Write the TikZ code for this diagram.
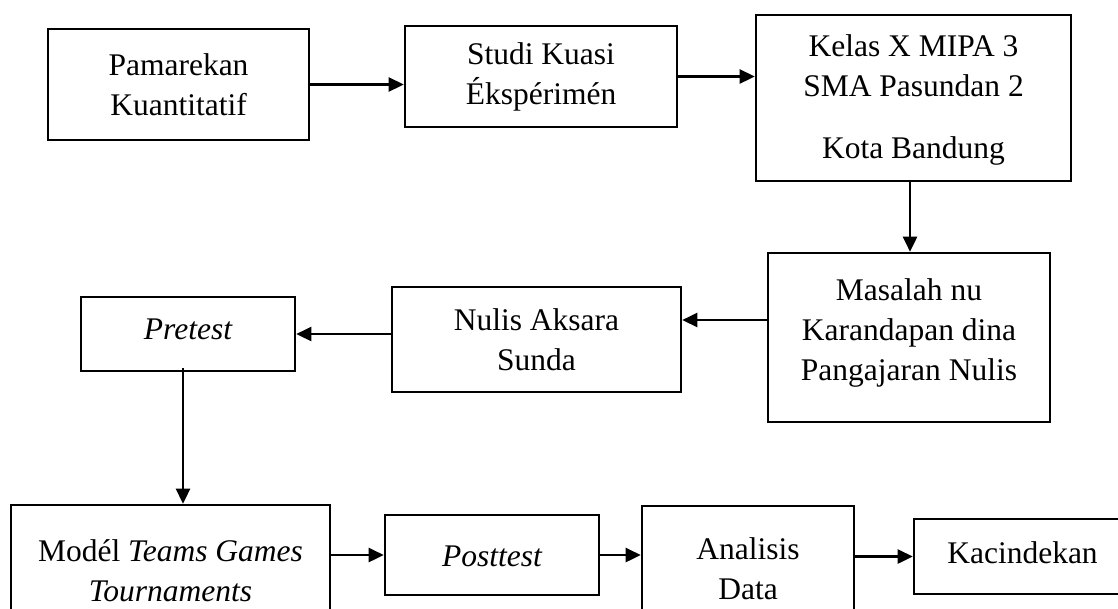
\documentclass[tikz,border=0pt]{standalone}
\usepackage{fontspec}
\setmainfont{Liberation Serif}
\usetikzlibrary{arrows.meta}
\tikzset{
  box/.style={draw=black, line width=2.6pt, rectangle, inner sep=0pt},
  txt/.style={align=center, inner sep=0pt, font=\fontsize{31.5}{40}\selectfont},
  arr/.style={line width=2.6pt, -{Triangle[length=15pt,width=14pt]}},
}
\begin{document}
\begin{tikzpicture}[x=1pt,y=-1pt]
\useasboundingbox (0,0) rectangle (1118,608);
\clip (0,0) rectangle (1118,608);
\fill[white] (0,0) rectangle (1118,608);
% boxes
\node[box, minimum width=261pt, minimum height=111pt] (pam) at (178.5,84.5) {};
\node[box, minimum width=272pt, minimum height=101pt] (studi) at (541,76.5) {};
\node[box, minimum width=315pt, minimum height=166pt] (kelas) at (913.5,98) {};
\node[box, minimum width=282pt, minimum height=169pt] (masalah) at (909,337.5) {};
\node[box, minimum width=289pt, minimum height=105pt] (nulis) at (536.5,339.5) {};
\node[box, minimum width=214pt, minimum height=74pt] (pretest) at (188,334) {};
\node[box, minimum width=319pt, minimum height=125pt] (model) at (170.5,567.5) {};
\node[box, minimum width=214pt, minimum height=80pt] (posttest) at (492,555) {};
\node[box, minimum width=212pt, minimum height=124pt] (analisis) at (748,568) {};
\node[box, minimum width=217pt, minimum height=75pt] (kac) at (1022.5,556.5) {};
% texts
\node[txt] (pam-t) at (178.5,85) {Pamarekan\\Kuantitatif};
\node[txt] (studi-t) at (541,77) {Studi Kuasi\\Ékspérimén};
\node[txt] (kelas-t) at (913.5,100) {Kelas X MIPA 3\\SMA Pasundan 2\\[22pt]Kota Bandung};
\node[txt] (masalah-t) at (909,333) {Masalah nu\\Karandapan dina\\Pangajaran Nulis};
\node[txt] (nulis-t) at (536.5,340) {Nulis Aksara\\Sunda};
\node[txt] (pretest-t) at (188,329) {\itshape Pretest};
\node[txt] (model-t) at (170.5,571) {Modél \textit{Teams Games}\\\textit{Tournaments}};
\node[txt] (posttest-t) at (492,556) {\itshape Posttest};
\node[txt] (analisis-t) at (748,569) {Analisis\\Data};
\node[txt] (kac-t) at (1022.5,553) {Kacindekan};
% connectors
\draw[arr] (pam.east) -- (pam.east -| studi.west);
\draw[arr] (studi.east) -- (studi.east -| kelas.west);
\draw[arr] (kelas.south -| 910,0) -- (masalah.north -| 910,0);
\draw[arr] (masalah.west |- 0,320) -- (nulis.east |- 0,320);
\draw[arr] (nulis.west |- pretest.east) -- (pretest.east);
\draw[arr] ([yshift=4pt]pretest.south -| 183,0) -- (model.north -| 183,0);
\draw[arr] (model.east |- posttest.west) -- (posttest.west);
\draw[arr] (posttest.east) -- (posttest.east -| analisis.west);
\draw[arr] (analisis.east |- kac.west) -- (kac.west);
\end{tikzpicture}
\end{document}
